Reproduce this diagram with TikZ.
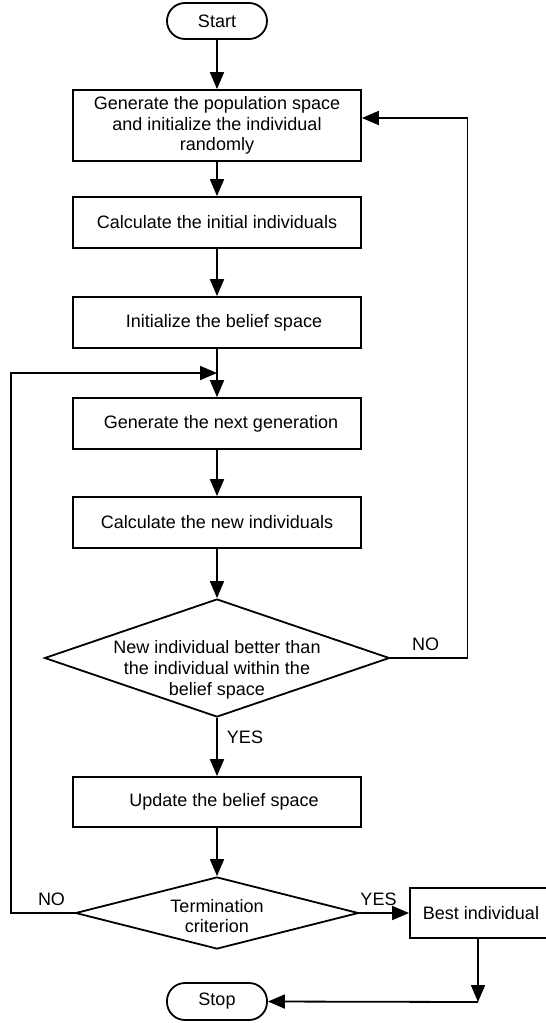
\documentclass[tikz,border=0pt]{standalone}
\usepackage{fontspec}
\setmainfont{Liberation Sans}
\usetikzlibrary{arrows.meta,shapes.geometric}
\begin{document}
\begin{tikzpicture}[x=1pt,y=-1pt,
  every node/.style={font=\fontsize{18}{20.7}\selectfont},
  procbox/.style={draw,line width=1.8pt,rectangle,inner sep=0pt,minimum width=288pt,align=center},
  termbox/.style={draw,line width=1.8pt,rectangle,rounded corners=18pt,inner sep=0pt,minimum width=100pt,minimum height=36pt},
  decision/.style={draw,line width=1.8pt,diamond,inner sep=0pt},
  lbl/.style={inner sep=0pt},
  arr/.style={line width=1.8pt,-{Triangle[length=17pt,width=14pt]}},
  conn/.style={line width=1.8pt}]
\useasboundingbox (0,0) rectangle (546,1023);
\clip (0,0) rectangle (546,1023);
\node[termbox] (start) at (217,21) {Start};
\node[procbox,minimum height=71pt] (b1) at (217,125.5) {Generate the population space\\and initialize the individual\\randomly};
\node[procbox,minimum height=51pt] (b2) at (217,222.5) {Calculate the initial individuals};
\node[procbox,minimum height=51pt] (b3) at (217,322.5) {\hspace*{14pt}Initialize the belief space};
\node[procbox,minimum height=51pt] (b4) at (217,423.5) {\hspace*{8pt}Generate the next generation};
\node[procbox,minimum height=51pt] (b5) at (217,522.5) {Calculate the new individuals};
\node[decision,minimum width=345pt,minimum height=118pt] (d1) at (217,658) {};
\node[align=center,inner sep=0pt] (d1t) at (217,670) {New individual better than\\the individual within the\\belief space};
\node[procbox,minimum height=50pt] (b6) at (217,802) {\hspace*{14pt}Update the belief space};
\node[decision,minimum width=283pt,minimum height=72pt] (d2) at (217,913) {};
\node[align=center,inner sep=0pt] (d2t) at (217,916) {Termination\\criterion};
\node[draw,line width=1.8pt,rectangle,inner sep=0pt,minimum width=138pt,minimum height=50pt] (best) at (479,913) {};
\node[inner sep=0pt] (bestt) at (481,913) {Best individual};
\node[termbox,minimum height=37pt] (stop) at (217,1001.5) {Stop};
\coordinate (j) at (217,373);
\coordinate (c) at (478,1002);
\draw[arr] (start) -- (b1);
\draw[arr] (b1) -- (b2);
\draw[arr] (b2) -- (b3);
\draw[arr] (b3) -- (b4);
\draw[arr] (b4) -- (b5);
\draw[arr] (b5) -- (d1);
\draw[arr] (d1) -- (b6);
\draw[arr] (b6) -- (d2);
\draw[arr] (d2.east) -- (best.west);
\draw[arr] (d2.west) -- ++(-64,0) |- (j);
\draw[arr] (d1.east) -- ++(77,0) |- ([yshift=7.5pt]b1.east);
\draw[arr] ([xshift=-1pt]best.south) -- (c);
\draw[arr] (c) -- (stop.east);
\node[lbl] (no1) at (425.5,644) {NO};
\node[lbl] (yes1) at (245,737) {YES};
\node[lbl] (no2) at (51.5,899) {NO};
\node[lbl] (yes2) at (378.5,899) {YES};
\end{tikzpicture}
\end{document}
